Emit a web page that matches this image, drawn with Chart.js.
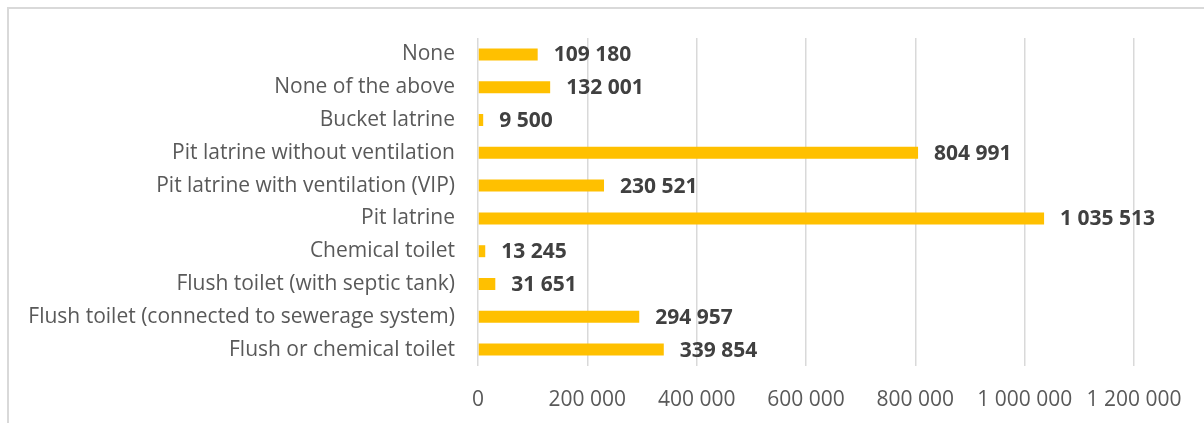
<!DOCTYPE html>
<html>
<head>
<meta charset="utf-8">
<script src="https://cdn.jsdelivr.net/npm/chart.js@4"></script>
<style>
html,body{margin:0;padding:0;background:#fff;}
#wrap{position:relative;width:1204px;height:423px;overflow:hidden;}
#frame{position:absolute;left:7px;top:7px;width:1300px;height:500px;border-left:2px solid #d9d9d9;border-top:2px solid #d9d9d9;box-sizing:border-box;}
canvas{position:absolute;left:0;top:0;}
</style>
</head>
<body>
<div id="wrap">
<div id="frame"></div>
<canvas id="c" width="1204" height="423"></canvas>
</div>
<script>
const categories = [
  "None",
  "None of the above",
  "Bucket latrine",
  "Pit latrine without ventilation",
  "Pit latrine with ventilation (VIP)",
  "Pit latrine",
  "Chemical toilet",
  "Flush toilet (with septic tank)",
  "Flush toilet (connected to sewerage system)",
  "Flush or chemical toilet"
];
const households = [109180, 132001, 9500, 804991, 230521, 1035513, 13245, 31651, 294957, 339854];
const xMin = 0, xMax = 1200000, xStep = 200000;

function fmt(v){
  return String(Math.round(v)).replace(/\B(?=(\d{3})+(?!\d))/g, " ");
}

const FONT = "'Open Sans', 'Noto Sans', sans-serif";

const valueLabels = {
  id: 'valueLabels',
  afterDatasetsDraw(chart){
    const ctx = chart.ctx;
    const meta = chart.getDatasetMeta(0);
    ctx.save();
    ctx.font = "bold 21px " + FONT;
    ctx.fillStyle = "#404040";
    ctx.textAlign = "left";
    ctx.textBaseline = "middle";
    meta.data.forEach((bar, i) => {
      ctx.fillText(fmt(chart.data.datasets[0].data[i]), bar.x + 16, bar.y + 1);
    });
    ctx.restore();
  }
};

new Chart(document.getElementById('c'), {
  type: 'bar',
  data: {
    labels: categories,
    datasets: [{
      data: households,
      backgroundColor: '#FFC000',
      borderWidth: 0,
      barPercentage: 0.73,
      categoryPercentage: 0.5
    }]
  },
  options: {
    indexAxis: 'y',
    responsive: false,
    animation: false,
    layout: { padding: { left: 0, right: 70, top: 38, bottom: 0 } },
    plugins: { legend: { display: false }, tooltip: { enabled: false } },
    scales: {
      x: {
        min: xMin, max: xMax,
        ticks: { stepSize: xStep, color: '#595959', font: { family: FONT, size: 21 }, padding: 21, callback: v => fmt(v) },
        grid: { color: '#d9d9d9', lineWidth: 1.5, drawTicks: false },
        border: { display: false },
        afterFit(s){ s.height = 57; }
      },
      y: {
        ticks: { color: '#595959', font: { family: FONT, size: 21 }, padding: 23, autoSkip: false },
        grid: { display: false, drawTicks: false },
        border: { display: false },
        afterFit(s){ s.width = 478; }
      }
    }
  },
  plugins: [valueLabels]
});
</script>
</body>
</html>
